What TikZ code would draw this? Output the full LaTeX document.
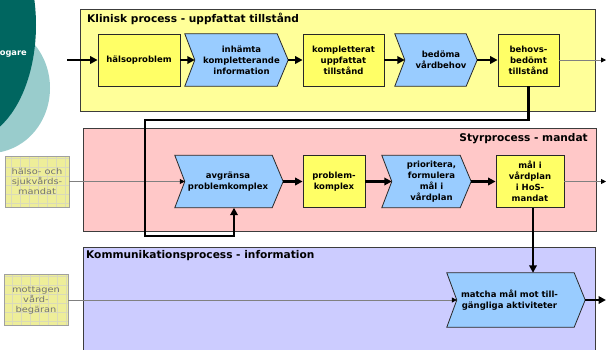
\documentclass[tikz,border=0pt]{standalone}
\usepackage{fontspec}
\setmainfont{DejaVu Sans}
\newfontfamily\notefont[FakeStretch=1.2]{DejaVu Sans}
\usetikzlibrary{arrows.meta,calc}

\definecolor{tealD}{RGB}{0,102,96}
\definecolor{tealL}{RGB}{153,204,204}
\definecolor{laneyellow}{RGB}{255,255,153}
\definecolor{lanepink}{RGB}{255,200,200}
\definecolor{lanelav}{RGB}{204,204,255}
\definecolor{laneline}{RGB}{60,60,60}
\definecolor{boxyellow}{RGB}{255,255,102}
\definecolor{chevblue}{RGB}{153,204,255}
\definecolor{boxline}{RGB}{40,40,40}
\definecolor{notefill}{RGB}{238,238,153}
\definecolor{notegrid}{RGB}{218,218,185}
\definecolor{notebord}{RGB}{160,160,160}
\definecolor{notetext}{RGB}{115,115,115}
\definecolor{feedgray}{RGB}{128,128,128}

\pgfdeclarelayer{bg}
\pgfdeclarelayer{mid}
\pgfsetlayers{bg,mid,main}

\tikzset{
  boxtext/.style={font=\fontsize{8.5}{11}\selectfont\bfseries, align=center, text=black},
  stepbox/.style={boxtext, draw=boxline, fill=boxyellow, line width=0.8pt,
    minimum height=52, inner sep=0pt},
  actbox/.style={boxtext, minimum height=52, inner sep=0pt},
  chev/.style={draw=boxline, fill=chevblue, line width=0.8pt},
  note/.style={draw=notebord, fill=notefill, line width=0.6pt,
    minimum width=64, minimum height=51, inner sep=0pt,
    font=\notefont\fontsize{8.2}{10}\selectfont, text=notetext, align=center,
    path picture={\draw[notegrid, line width=0.35pt, step=9pt]
      (path picture bounding box.south west) grid (path picture bounding box.north east);}},
  flow/.style={line width=2.5pt, -{Triangle[length=7.5pt,width=7.5pt]}},
  feed/.style={draw=feedgray, line width=0.8pt, -{Triangle[length=5pt,width=5pt,color=black]}},
  lane/.style={draw=laneline, line width=0.8pt},
  lanetitle/.style={font=\fontsize{10.6}{12}\selectfont\bfseries, inner sep=0pt}
}

% chevron outline around a text node: notch on the west side, point on the east side
\newcommand\chevron[1]{%
  \path[chev] ([xshift=-10pt]#1.north west) -- ([xshift=-11pt]#1.north east)
    -- (#1.east) -- ([xshift=-11pt]#1.south east)
    -- ([xshift=-10pt]#1.south west) -- (#1.west) -- cycle;}

\begin{document}
\begin{tikzpicture}[x=1pt,y=-1pt]
\useasboundingbox (0,0) rectangle (606,349);

% background: decorative discs and the three process lanes
\begin{pgfonlayer}{bg}
  \fill[tealL] (-10,88) ellipse [x radius=60pt, y radius=65pt];
  \fill[tealD] (-32,25) ellipse [x radius=68pt, y radius=115pt];
  \path[lane, fill=laneyellow] (80,9) rectangle (595,111);
  \path[lane, fill=lanepink] (83,128) rectangle (596,231);
  \path[lane, fill=lanelav] (83,247) rectangle (595,352);
\end{pgfonlayer}

\node[anchor=base east, text=white, inner sep=0pt,
  font=\fontsize{8.3}{10}\selectfont\bfseries] (cli) at (27,55) {ogare};

% lane titles
\node[lanetitle, anchor=base west] (t1) at (87,22) {Klinisk process - uppfattat tillstånd};
\node[lanetitle, anchor=base east] (t2) at (588,141) {Styrprocess - mandat};
\node[lanetitle, anchor=base west] (t3) at (86,258) {Kommunikationsprocess - information};

% clinical process
\node[stepbox, minimum width=82] (hal) at (139,60) {hälsoproblem};
\node[actbox, minimum width=93] (inh) at (241.5,60) {inhämta\\kompletterande\\information};
\node[stepbox, minimum width=81] (kom) at (343.5,60) {kompletterat\\uppfattat\\tillstånd};
\node[actbox, minimum width=72] (bed) at (441,60) {bedöma\\vårdbehov};
\node[stepbox, minimum width=61] (beh) at (528.5,60) {behovs-\\bedömt\\tillstånd};

% steering process
\node[note] (n1) at (37,181.5) {hälso- och\\sjukvårds-\\mandat};
\node[actbox, minimum width=98] (avg) at (234,181.5) {\hspace*{-12pt}avgränsa\\\hspace*{-12pt}problemkomplex};
\node[stepbox, minimum width=62] (prk) at (334,181.5) {problem-\\komplex};
\node[actbox, minimum width=79] (pri) at (431.5,181.5) {prioritera,\\formulera\\mål i\\vårdplan};
\node[stepbox, minimum width=68] (mal) at (530,181.5) {mål i\\vårdplan\\i HoS-\\mandat};

% communication process
\node[note] (n2) at (36,300) {mottagen\\vård-\\begäran};
\node[actbox, minimum width=128, minimum height=54] (mat) at (521,300)
  {\hspace*{-23pt}matcha mål mot till-\\\hspace*{-23pt}gängliga aktiviteter};

\begin{pgfonlayer}{mid}
  \foreach \c in {inh,bed,avg,pri,mat} {\chevron{\c}}
\end{pgfonlayer}

% free ends of connectors
\coordinate (in1) at (67,60);
\coordinate (out1) at (606,60);
\coordinate (out2) at (606,181.5);
\coordinate (out3) at (606,300);
\coordinate (byA) at (145,120);
\coordinate (byB) at (145,236);

% connectors
\draw[flow] (in1) -- (hal.west);
\draw[flow] (hal.east) -- (inh.west);
\draw[flow] (inh.east) -- (kom.west);
\draw[flow] (kom.east) -- (bed.west);
\draw[flow] (bed.east) -- (beh.west);
\draw[feed] (beh.east) -- (out1);

\draw[feed] (n1.east) -- (avg.west);
\draw[flow] (avg.east) -- (prk.west);
\draw[flow] (prk.east) -- (pri.west);
\draw[flow] (pri.east) -- (mal.west);
\draw[feed] (mal.east) -- (out2);

\draw[flow] (beh.south) |- (byA) -- (byB) -| (avg.south);
\draw[flow] ([xshift=3pt]mal.south) -- ([xshift=3pt]mal.south |- mat.north);
\draw[feed] (n2.east) -- (mat.west);
\draw[flow] (mat.east) -- (out3);
\end{tikzpicture}
\end{document}
